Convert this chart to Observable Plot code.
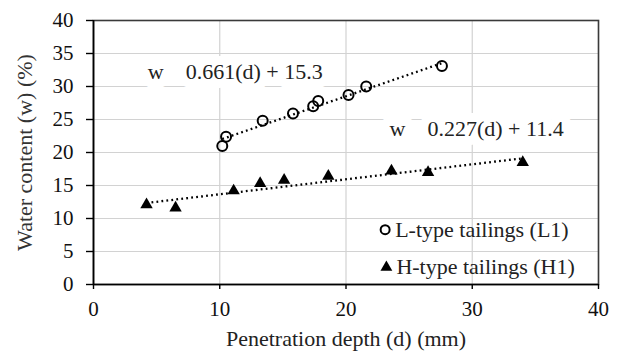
<!DOCTYPE html>
<html><head><meta charset="utf-8">
<script src="https://cdn.jsdelivr.net/npm/d3@7"></script>
<script src="https://cdn.jsdelivr.net/npm/@observablehq/plot@0.6"></script>
<style>
body{margin:0;background:#fff}
#chart svg, #chart svg text, #chart svg g{font-family:"Liberation Serif","Times New Roman",serif !important;}
</style>
</head><body><div id="chart"></div>
<script>
// L-type tailings (L1): penetration depth (mm) and water content (%)
const dL = [10.2, 10.5, 13.4, 15.8, 17.4, 17.8, 20.2, 21.6, 27.6];
const wL = [21.0, 22.4, 24.8, 25.9, 27.0, 27.8, 28.7, 30.0, 33.1];
// H-type tailings (H1)
const dH = [4.2, 6.5, 11.1, 13.2, 15.1, 18.6, 23.6, 26.5, 34.0];
const wH = [12.1, 11.6, 14.2, 15.3, 15.8, 16.4, 17.2, 17.0, 18.5];

const seriesNames = ["L-type tailings (L1)", "H-type tailings (H1)"];
const slopes = [0.661, 0.227];
const intercepts = [15.3, 11.4];
const eqTexts = ["w\u00a0\u00a0\u00a0\u00a00.661(d) + 15.3", "w\u00a0\u00a0\u00a0\u00a00.227(d) + 11.4"];
const eqX = [4.3, 23.45];
const eqY = [32.2, 23.6];
const legendX = [23.1, 23.2];
const legendY = [8.3, 2.6];

const xTicks = [0, 10, 20, 30, 40];
const yTicks = [0, 5, 10, 15, 20, 25, 30, 35, 40];
const xLabel = "Penetration depth (d) (mm)";
const yLabel = "Water content (w) (%)";

const ptsL = dL.map((d, i) => ({d, w: wL[i]}));
const ptsH = dH.map((d, i) => ({d, w: wH[i]}));
const allD = [dL, dH];
const trend = [];
allD.forEach((ds, k) => {
  const lo = d3.min(ds), hi = d3.max(ds);
  trend.push({k, d: lo, w: slopes[k] * lo + intercepts[k]});
  trend.push({k, d: hi, w: slopes[k] * hi + intercepts[k]});
});
const eqs = eqTexts.map((t, i) => ({t, x: eqX[i], y: eqY[i]}));
const legend = seriesNames.map((n, i) => ({n, x: legendX[i], y: legendY[i], i}));

const serif = "Liberation Serif";

const chart = Plot.plot({
  width: 621, height: 352,
  marginLeft: 93, marginRight: 23, marginTop: 20, marginBottom: 68,
  style: {fontFamily: serif, fontSize: "21px", background: "white", color: "black"},
  x: {domain: [0, 40]},
  y: {domain: [0, 40]},
  marks: [
    Plot.gridX(xTicks, {stroke: "#d2d2d2", strokeOpacity: 1, strokeWidth: 1.2}),
    Plot.gridY(yTicks, {stroke: "#d2d2d2", strokeOpacity: 1, strokeWidth: 1.2}),
    Plot.frame({stroke: "#3a3a3a", strokeWidth: 1.6}),
    Plot.ruleX([0], {stroke: "black", strokeWidth: 1.6}),
    Plot.ruleY([0], {stroke: "black", strokeWidth: 1.6}),
    Plot.axisX(xTicks, {tickSize: 5, tickPadding: 12, label: null, fontSize: 21, fontFamily: serif, strokeWidth: 1.4, fill: "#111"}),
    Plot.axisY(yTicks, {tickSize: 7, tickPadding: 13, label: null, fontSize: 21, fontFamily: serif, strokeWidth: 1.4, fill: "#111"}),
    Plot.text([xLabel], {frameAnchor: "bottom", textAnchor: "middle", lineAnchor: "middle", dy: 54, fontSize: 22, fontFamily: serif, fill: "#222"}),
    Plot.text([yLabel], {frameAnchor: "left", textAnchor: "middle", lineAnchor: "middle", rotate: -90, dx: -69, fontSize: 22, fontFamily: serif, fill: "#333"}),
    Plot.text(eqs, {x: "x", y: "y", text: "t", textAnchor: "start", fontSize: 22, fontFamily: serif, fill: "#222",
      stroke: "white", strokeWidth: 18, paintOrder: "stroke"}),
    Plot.line(trend, {x: "d", y: "w", z: "k", stroke: "black", strokeWidth: 2.3,
      strokeDasharray: "1.8,3.2", strokeLinecap: "butt"}),
    Plot.dot(ptsL, {x: "d", y: "w", symbol: "circle", r: 5, stroke: "black", strokeWidth: 2, fill: "none"}),
    Plot.dot(ptsH, {x: "d", y: "w", symbol: "triangle", r: 4.6, fill: "black", stroke: "none"}),
    Plot.dot(legend.filter(l => l.i === 0), {x: "x", y: "y", symbol: "circle", r: 4.5, stroke: "black", strokeWidth: 2, fill: "none"}),
    Plot.dot(legend.filter(l => l.i === 1), {x: "x", y: "y", symbol: "triangle", r: 4.4, fill: "black", stroke: "none"}),
    Plot.text(legend, {x: "x", y: "y", text: "n", textAnchor: "start", dx: 10, fontSize: 22, fontFamily: serif, fill: "#222"})
  ]
});
document.getElementById("chart").appendChild(chart);
</script>
</body></html>
